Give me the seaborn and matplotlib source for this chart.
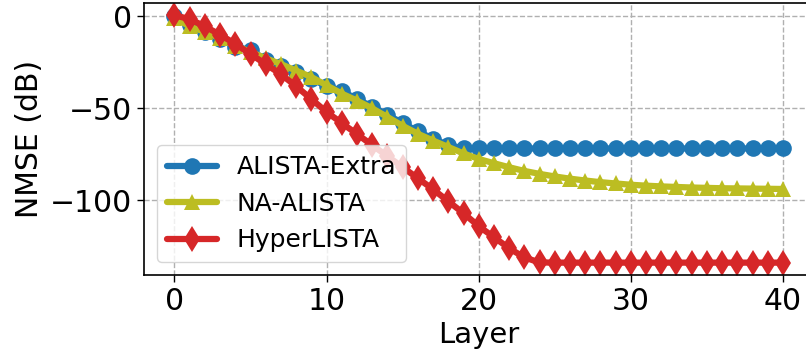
import numpy as np
import pandas as pd
import matplotlib
matplotlib.use("Agg")
import matplotlib.pyplot as plt
import seaborn as sns

layers = list(range(41))

alista_extra = [0.3, -4.5, -8.8, -12.5, -16.5, -18.5, -23.5, -27.0, -30.5, -34.0,
                -38.0, -40.5, -45.0, -49.0, -53.5, -58.0, -62.5, -66.5, -70.0, -71.8,
                -71.8, -71.8, -71.8, -71.8, -71.8, -71.8, -71.8, -71.8, -71.8, -71.8,
                -71.8, -71.8, -71.8, -71.8, -71.8, -71.8, -71.8, -71.8, -71.8, -71.8,
                -71.8]
na_alista = [-0.8, -5.5, -8.5, -12.0, -16.0, -19.3, -22.8, -26.0, -29.5, -33.0,
             -37.5, -42.0, -45.8, -50.0, -54.7, -59.5, -63.8, -67.5, -71.0, -74.5,
             -77.5, -79.8, -82.0, -84.0, -85.6, -87.0, -88.2, -89.2, -90.1, -90.8,
             -91.5, -92.0, -92.4, -92.7, -93.0, -93.2, -93.4, -93.5, -93.6, -93.7,
             -93.8]
hyperlista = [0.5, -1.5, -5.5, -10.0, -15.0, -20.5, -26.0, -31.5, -38.0, -45.0,
              -52.0, -58.0, -64.0, -70.0, -76.0, -82.0, -88.0, -94.0, -100.5, -107.0,
              -114.0, -120.0, -126.0, -131.0, -133.7, -133.8, -133.8, -133.8, -133.8, -133.8,
              -133.8, -133.8, -133.8, -133.8, -133.8, -133.8, -133.8, -133.8, -133.8, -133.8,
              -133.8]

series_names = ["ALISTA-Extra", "NA-ALISTA", "HyperLISTA"]
series_values = [alista_extra, na_alista, hyperlista]
colors = ["#1f77b4", "#bcbd22", "#d62728"]
markers = ["o", "^", "d"]
msizes = [12, 12, 13]

sns.set_style("ticks")
plt.rcParams.update({
    "font.family": ["DejaVu Sans"],
    "axes.edgecolor": "black",
    "text.color": "black",
    "axes.labelcolor": "black",
    "xtick.color": "black",
    "ytick.color": "black",
})

fig = plt.figure(figsize=(8.06, 3.54), dpi=100)
ax = fig.add_axes([0.1787, 0.2232, 1.0092 - 0.1787, 0.9915 - 0.2232])

for name, vals, c, m, ms in zip(series_names, series_values, colors, markers, msizes):
    df = pd.DataFrame({"Layer": layers, "NMSE": vals})
    sns.lineplot(data=df, x="Layer", y="NMSE", ax=ax, color=c, marker=m,
                 markersize=ms, markeredgewidth=0, linewidth=4.5, label=name)

ax.margins(x=0.05, y=0.05)
ax.grid(True, linestyle="--", color="#b0b0b0", linewidth=1.0)
ax.set_axisbelow(True)
ax.set_xticks([0, 10, 20, 30, 40])
ax.set_yticks([0, -50, -100])
ax.tick_params(axis="both", labelsize=21.5, length=5, width=1, direction="out")
ax.set_xlabel("Layer", fontsize=21)
ax.set_ylabel("NMSE (dB)", fontsize=21.5)
for sp in ax.spines.values():
    sp.set_visible(True)
    sp.set_linewidth(1.2)
ax.legend(loc="lower left", fontsize=18, framealpha=0.8)

fig.savefig("out.png", dpi=100)
